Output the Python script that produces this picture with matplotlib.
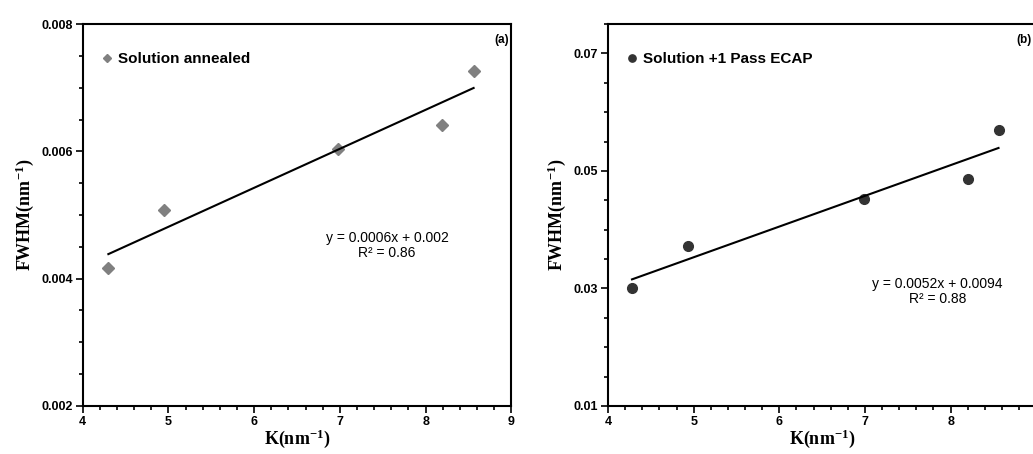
import numpy as np
import matplotlib.pyplot as plt
from matplotlib.ticker import MultipleLocator, FormatStrFormatter

plt.rcParams['axes.unicode_minus'] = False
plt.rcParams['mathtext.default'] = 'regular'

# (a) solution annealed
k_a = [4.30, 4.95, 6.98, 8.19, 8.56]
fwhm_a = [0.00416, 0.00508, 0.00604, 0.00641, 0.00727]
# (b) solution + 1 pass ECAP
k_b = [4.28, 4.93, 6.99, 8.20, 8.56]
fwhm_b = [0.0300, 0.0373, 0.0452, 0.0486, 0.0570]

fig = plt.figure(figsize=(10.33, 4.54), dpi=100)
ax1 = fig.add_axes([0.080, 0.106, 0.415, 0.841])
ax2 = fig.add_axes([0.5886, 0.106, 0.4145, 0.841])

sans = 'Liberation Sans'
serif = 'Liberation Serif'

def style(ax, ylim, yticks, minor, fmt):
    ax.set_xlim(4, 9)
    ax.set_ylim(*ylim)
    ax.xaxis.set_major_locator(MultipleLocator(1))
    ax.xaxis.set_minor_locator(MultipleLocator(0.2))
    ax.set_yticks(yticks)
    ax.yaxis.set_minor_locator(MultipleLocator(minor))
    ax.yaxis.set_major_formatter(FormatStrFormatter(fmt))
    ax.tick_params(which='both', direction='out', top=False, right=False, width=1.2)
    ax.tick_params(which='major', length=5, labelsize=9, pad=2)
    ax.tick_params(which='minor', length=3)
    for lab in ax.get_xticklabels() + ax.get_yticklabels():
        lab.set_family(sans)
        lab.set_fontweight('bold')
    for s in ax.spines.values():
        s.set_linewidth(1.5)
    ax.set_xlabel(r'K(nm$^{-1}$)', family=serif, fontweight='bold', fontsize=13, labelpad=0)
    ax.set_ylabel(r'FWHM(nm$^{-1}$)', family=serif, fontweight='bold', fontsize=13, labelpad=4)

style(ax1, (0.002, 0.008), [0.002, 0.004, 0.006, 0.008], 0.0005, '%.3f')
style(ax2, (0.01, 0.075), [0.01, 0.03, 0.05, 0.07], 0.005, '%.2f')

ax1.plot(k_a, fwhm_a, 'D', color='#808080', markersize=6, label='Solution annealed')
p = np.polyfit(k_a, fwhm_a, 1)
xs = np.array([min(k_a), max(k_a)])
ax1.plot(xs, np.polyval(p, xs), color='black', lw=1.5)

ax2.plot(k_b, fwhm_b, 'o', color='#333333', markersize=7, label='Solution +1 Pass ECAP')
p = np.polyfit(k_b, fwhm_b, 1)
xs = np.array([min(k_b), max(k_b)])
ax2.plot(xs, np.polyval(p, xs), color='black', lw=1.5)

for ax in (ax1, ax2):
    ax.legend(loc='upper left', frameon=False, handletextpad=0.3, handlelength=0.8,
              borderaxespad=0.8, prop={'family': sans, 'weight': 'bold', 'size': 11},
              markerscale=0.75, bbox_to_anchor=(0.0, 0.975))

ax1.text(0.71, 0.42, 'y = 0.0006x + 0.002\nR² = 0.86', transform=ax1.transAxes,
         ha='center', va='center', family=sans, fontsize=10, linespacing=1.05)
ax2.text(0.77, 0.30, 'y = 0.0052x + 0.0094\nR² = 0.88', transform=ax2.transAxes,
         ha='center', va='center', family=sans, fontsize=10, linespacing=1.05)
ax1.text(0.995, 0.975, '(a)', transform=ax1.transAxes, ha='right', va='top',
         family=sans, fontweight='bold', fontsize=8.5)
ax2.text(0.99, 0.975, '(b)', transform=ax2.transAxes, ha='right', va='top',
         family=sans, fontweight='bold', fontsize=8.5)

fig.savefig('out.png', dpi=100)
